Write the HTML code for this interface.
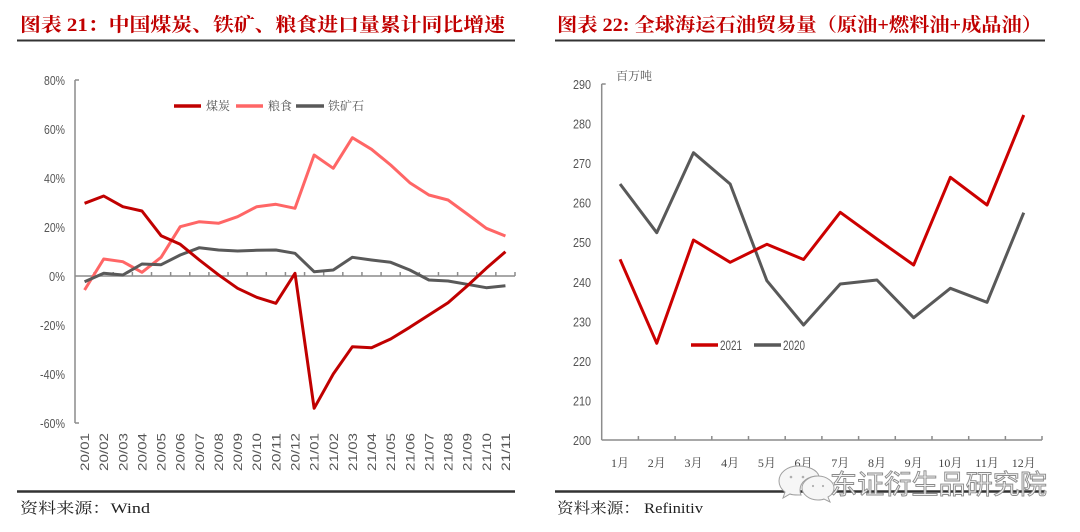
<!DOCTYPE html>
<html>
<head>
<meta charset="utf-8">
<style>
  html,body{margin:0;padding:0;background:#fff;}
  body{width:1080px;height:532px;overflow:hidden;}
  svg{display:block;}
  .ttl{font-family:"Liberation Serif","Noto Serif CJK SC",serif;font-weight:bold;fill:#c00000;font-size:19px;}
  .src{font-family:"Liberation Serif","Noto Serif CJK SC",serif;fill:#222;font-size:15px;}
  .yl{font-family:"Liberation Sans","Noto Sans CJK SC",sans-serif;fill:#555;font-size:13px;}
  .xl{font-family:"Liberation Sans","Noto Sans CJK SC",sans-serif;fill:#555;font-size:12px;}
  .xr{font-family:"Liberation Serif","Noto Serif CJK SC",serif;fill:#444;font-size:12px;}
  .lg{font-family:"Liberation Serif","Noto Serif CJK SC",serif;fill:#555;font-size:12px;}
  .lgn{font-family:"Liberation Sans","Noto Sans CJK SC",sans-serif;fill:#555;font-size:14px;}
</style>
</head>
<body>
<svg width="1080" height="532" viewBox="0 0 1080 532" xmlns="http://www.w3.org/2000/svg">
  <!-- ============ LEFT CHART ============ -->
  <text class="ttl" x="20" y="31" textLength="485" lengthAdjust="spacingAndGlyphs">图表 21：中国煤炭、铁矿、粮食进口量累计同比增速</text>
  <line x1="17" y1="40.5" x2="515" y2="40.5" stroke="#333" stroke-width="2"/>

  <!-- y labels -->
  <g class="yl" text-anchor="end">
    <text x="65" y="85" textLength="21" lengthAdjust="spacingAndGlyphs">80%</text>
    <text x="65" y="134" textLength="21" lengthAdjust="spacingAndGlyphs">60%</text>
    <text x="65" y="183" textLength="21" lengthAdjust="spacingAndGlyphs">40%</text>
    <text x="65" y="232" textLength="21" lengthAdjust="spacingAndGlyphs">20%</text>
    <text x="65" y="281" textLength="16" lengthAdjust="spacingAndGlyphs">0%</text>
    <text x="65" y="330" textLength="25" lengthAdjust="spacingAndGlyphs">-20%</text>
    <text x="65" y="379" textLength="25" lengthAdjust="spacingAndGlyphs">-40%</text>
    <text x="65" y="428" textLength="25" lengthAdjust="spacingAndGlyphs">-60%</text>
  </g>

  <!-- axes -->
  <g stroke="#8c8c8c" stroke-width="1.5" fill="none">
    <line x1="75" y1="80" x2="75" y2="423"/>
    <line x1="75" y1="80" x2="79" y2="80"/>
    <line x1="75" y1="423" x2="79" y2="423"/>
    <line x1="75" y1="276" x2="515" y2="276"/>
    <path d="M94.13 276v-4M113.26 276v-4M132.39 276v-4M151.52 276v-4M170.65 276v-4M189.78 276v-4M208.91 276v-4M228.04 276v-4M247.17 276v-4M266.3 276v-4M285.43 276v-4M304.56 276v-4M323.69 276v-4M342.82 276v-4M361.95 276v-4M381.08 276v-4M400.21 276v-4M419.34 276v-4M438.47 276v-4M457.6 276v-4M476.73 276v-4M495.86 276v-4M515 276v-4"/>
  </g>

  <!-- series -->
  <polyline fill="none" stroke="#ff6666" stroke-width="3" stroke-linejoin="round"
    points="84.57,290 103.7,259 122.82,261.7 141.96,272.3 161.09,257.3 180.22,226.7 199.35,221.7 218.48,223.3 237.61,216.7 256.74,206.7 275.87,204.3 295,208.3 314.13,155 333.26,168.3 352.39,137.7 371.52,149.3 390.65,165 409.78,182.7 428.91,195 448.04,200 467.17,214 486.3,228.3 505.43,236"/>
  <polyline fill="none" stroke="#595959" stroke-width="3" stroke-linejoin="round"
    points="84.57,281.7 103.7,273.3 122.82,275 141.96,264 161.09,264.7 180.22,255 199.35,247.7 218.48,250 237.61,251 256.74,250.3 275.87,250 295,253.3 314.13,271.7 333.26,270 352.39,257.3 371.52,260 390.65,262.3 409.78,270 428.91,280 448.04,281 467.17,284.3 486.3,287.7 505.43,285.7"/>
  <polyline fill="none" stroke="#c00000" stroke-width="3" stroke-linejoin="round"
    points="84.57,203.3 103.7,196 122.82,206.7 141.96,211 161.09,235.7 180.22,244.3 199.35,260 218.48,274.8 237.61,288.3 256.74,297.3 275.87,303.3 295,273.3 314.13,408.3 333.26,374 352.39,346.7 371.52,347.7 390.65,339 409.78,327.3 428.91,315 448.04,302.7 467.17,286 486.3,268.3 505.43,251.7"/>

  <!-- legend -->
  <line x1="174" y1="106" x2="201" y2="106" stroke="#c00000" stroke-width="3.5"/>
  <text class="lg" x="206" y="110">煤炭</text>
  <line x1="236" y1="106" x2="263" y2="106" stroke="#ff6666" stroke-width="3.5"/>
  <text class="lg" x="268" y="110">粮食</text>
  <line x1="296" y1="106" x2="324" y2="106" stroke="#595959" stroke-width="3.5"/>
  <text class="lg" x="328" y="110">铁矿石</text>

  <!-- x labels rotated -->
  <g class="xl" text-anchor="end">
    <text transform="translate(89,433) rotate(-90)" textLength="38" lengthAdjust="spacingAndGlyphs">20/01</text>
    <text transform="translate(108.2,433) rotate(-90)" textLength="38" lengthAdjust="spacingAndGlyphs">20/02</text>
    <text transform="translate(127.3,433) rotate(-90)" textLength="38" lengthAdjust="spacingAndGlyphs">20/03</text>
    <text transform="translate(146.5,433) rotate(-90)" textLength="38" lengthAdjust="spacingAndGlyphs">20/04</text>
    <text transform="translate(165.6,433) rotate(-90)" textLength="38" lengthAdjust="spacingAndGlyphs">20/05</text>
    <text transform="translate(184.7,433) rotate(-90)" textLength="38" lengthAdjust="spacingAndGlyphs">20/06</text>
    <text transform="translate(203.9,433) rotate(-90)" textLength="38" lengthAdjust="spacingAndGlyphs">20/07</text>
    <text transform="translate(223,433) rotate(-90)" textLength="38" lengthAdjust="spacingAndGlyphs">20/08</text>
    <text transform="translate(242.1,433) rotate(-90)" textLength="38" lengthAdjust="spacingAndGlyphs">20/09</text>
    <text transform="translate(261.2,433) rotate(-90)" textLength="38" lengthAdjust="spacingAndGlyphs">20/10</text>
    <text transform="translate(280.4,433) rotate(-90)" textLength="38" lengthAdjust="spacingAndGlyphs">20/11</text>
    <text transform="translate(299.5,433) rotate(-90)" textLength="38" lengthAdjust="spacingAndGlyphs">20/12</text>
    <text transform="translate(318.6,433) rotate(-90)" textLength="38" lengthAdjust="spacingAndGlyphs">21/01</text>
    <text transform="translate(337.8,433) rotate(-90)" textLength="38" lengthAdjust="spacingAndGlyphs">21/02</text>
    <text transform="translate(356.9,433) rotate(-90)" textLength="38" lengthAdjust="spacingAndGlyphs">21/03</text>
    <text transform="translate(376,433) rotate(-90)" textLength="38" lengthAdjust="spacingAndGlyphs">21/04</text>
    <text transform="translate(395.2,433) rotate(-90)" textLength="38" lengthAdjust="spacingAndGlyphs">21/05</text>
    <text transform="translate(414.3,433) rotate(-90)" textLength="38" lengthAdjust="spacingAndGlyphs">21/06</text>
    <text transform="translate(433.4,433) rotate(-90)" textLength="38" lengthAdjust="spacingAndGlyphs">21/07</text>
    <text transform="translate(452.5,433) rotate(-90)" textLength="38" lengthAdjust="spacingAndGlyphs">21/08</text>
    <text transform="translate(471.7,433) rotate(-90)" textLength="38" lengthAdjust="spacingAndGlyphs">21/09</text>
    <text transform="translate(490.8,433) rotate(-90)" textLength="38" lengthAdjust="spacingAndGlyphs">21/10</text>
    <text transform="translate(509.9,433) rotate(-90)" textLength="38" lengthAdjust="spacingAndGlyphs">21/11</text>
  </g>

  <line x1="17" y1="491.5" x2="515" y2="491.5" stroke="#333" stroke-width="2.5"/>
  <text class="src" x="20" y="513" textLength="130" lengthAdjust="spacingAndGlyphs">资料来源：Wind</text>

  <!-- ============ RIGHT CHART ============ -->
  <text class="ttl" x="557" y="31" textLength="485" lengthAdjust="spacingAndGlyphs">图表 22: 全球海运石油贸易量（原油+燃料油+成品油）</text>
  <line x1="555" y1="40.5" x2="1045" y2="40.5" stroke="#333" stroke-width="2"/>

  <text class="lg" x="616" y="80" font-size="11">百万吨</text>

  <g class="yl" text-anchor="end" font-size="14">
    <text x="591" y="89" textLength="18" lengthAdjust="spacingAndGlyphs">290</text>
    <text x="591" y="128.6" textLength="18" lengthAdjust="spacingAndGlyphs">280</text>
    <text x="591" y="168.1" textLength="18" lengthAdjust="spacingAndGlyphs">270</text>
    <text x="591" y="207.7" textLength="18" lengthAdjust="spacingAndGlyphs">260</text>
    <text x="591" y="247.2" textLength="18" lengthAdjust="spacingAndGlyphs">250</text>
    <text x="591" y="286.8" textLength="18" lengthAdjust="spacingAndGlyphs">240</text>
    <text x="591" y="326.3" textLength="18" lengthAdjust="spacingAndGlyphs">230</text>
    <text x="591" y="365.9" textLength="18" lengthAdjust="spacingAndGlyphs">220</text>
    <text x="591" y="405.4" textLength="18" lengthAdjust="spacingAndGlyphs">210</text>
    <text x="591" y="445" textLength="18" lengthAdjust="spacingAndGlyphs">200</text>
  </g>

  <g stroke="#8c8c8c" stroke-width="1.5" fill="none">
    <line x1="601.7" y1="84" x2="601.7" y2="440"/>
    <line x1="601.7" y1="84" x2="605.7" y2="84"/>
    <line x1="601.7" y1="440" x2="1042" y2="440"/>
    <path d="M638.4 440v-4M675.1 440v-4M711.8 440v-4M748.5 440v-4M785.2 440v-4M821.9 440v-4M858.6 440v-4M895.3 440v-4M932 440v-4M968.7 440v-4M1005.4 440v-4M1042 440v-4"/>
  </g>

  <polyline fill="none" stroke="#595959" stroke-width="3" stroke-linejoin="round"
    points="620.05,184 656.75,232.7 693.45,152.7 730.15,184 766.85,280.7 803.55,325 840.25,284 876.95,280 913.65,317.7 950.35,288.3 987.05,302.3 1023.75,212.7"/>
  <polyline fill="none" stroke="#cc0000" stroke-width="3" stroke-linejoin="round"
    points="620.05,259.3 656.75,343.3 693.45,240 730.15,262.3 766.85,244.3 803.55,259.5 840.25,212.3 876.95,239 913.65,265 950.35,177.3 987.05,205 1023.75,115"/>

  <!-- legend -->
  <line x1="691" y1="345" x2="718" y2="345" stroke="#cc0000" stroke-width="3.5"/>
  <text class="lgn" x="720" y="350" textLength="22" lengthAdjust="spacingAndGlyphs">2021</text>
  <line x1="754" y1="345" x2="781" y2="345" stroke="#595959" stroke-width="3.5"/>
  <text class="lgn" x="783" y="350" textLength="22" lengthAdjust="spacingAndGlyphs">2020</text>

  <g class="xr" text-anchor="middle">
    <text x="620.05" y="467">1月</text>
    <text x="656.75" y="467">2月</text>
    <text x="693.45" y="467">3月</text>
    <text x="730.15" y="467">4月</text>
    <text x="766.85" y="467">5月</text>
    <text x="803.55" y="467">6月</text>
    <text x="840.25" y="467">7月</text>
    <text x="876.95" y="467">8月</text>
    <text x="913.65" y="467">9月</text>
    <text x="950.35" y="467">10月</text>
    <text x="987.05" y="467">11月</text>
    <text x="1023.75" y="467">12月</text>
  </g>

  <line x1="555" y1="491.5" x2="1045" y2="491.5" stroke="#333" stroke-width="2.5"/>
  <text class="src" x="557" y="513" textLength="146" lengthAdjust="spacingAndGlyphs">资料来源： Refinitiv</text>

  <!-- watermark -->
  <g fill="#f6f6f6" stroke="#a0a0a0" stroke-width="1">
    <path d="M798 466c-11 0-19 7-19 15 0 4 2 8 6 11l-2 6 7-4c2 1 5 1 8 1 1 0 2 0 3 0-1-2-1-3-1-5 0-8 8-14 18-14 0 0 1 0 1 0-2-6-10-10-21-10z"/>
    <path d="M818 476c-9 0-16 6-16 12s7 12 16 12c2 0 4 0 6-1l6 3-2-5c4-2 6-5 6-9 0-6-7-12-16-12z"/>
  </g>
  <g fill="#b0b0b0">
    <circle cx="791" cy="477" r="1.3"/><circle cx="803" cy="477" r="1.3"/>
    <circle cx="813" cy="486" r="1.1"/><circle cx="823" cy="486" r="1.1"/>
  </g>
  <text x="830" y="494" font-family="'Noto Sans CJK SC','WenQuanYi Zen Hei',sans-serif" font-size="27" fill="#f4f4f4" stroke="#8a8a8a" stroke-width="0.9" textLength="217" lengthAdjust="spacingAndGlyphs">东证衍生品研究院</text>
</svg>
</body>
</html>
